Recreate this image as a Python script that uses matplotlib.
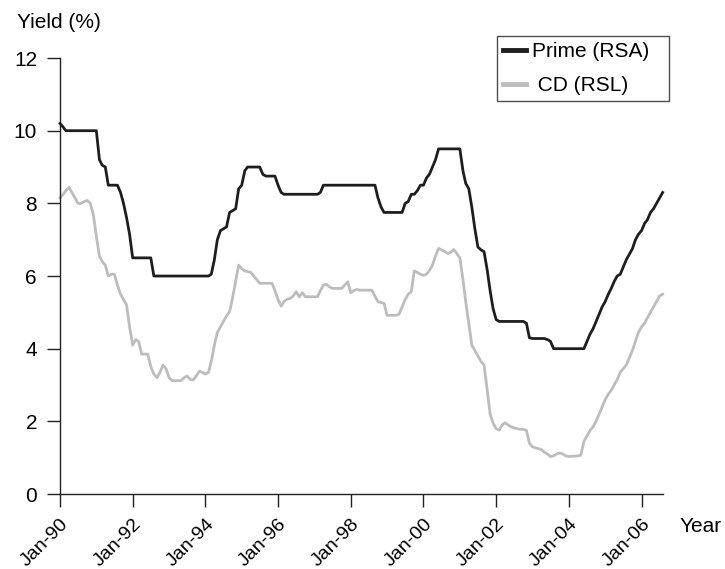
import pandas as pd
import matplotlib
matplotlib.use("Agg")
import matplotlib.pyplot as plt
import matplotlib.dates as mdates

plt.rcParams['font.family'] = ['Liberation Sans', 'DejaVu Sans']

# monthly values, Jan 1990 .. Aug 2006
prime = [
    10.2, 10.1, 10.0, 10.0, 10.0, 10.0, 10.0, 10.0, 10.0, 10.0, 10.0, 10.0,   # 1990
    10.0, 9.2, 9.05, 9.0, 8.5, 8.5, 8.5, 8.5, 8.3, 8.0, 7.6, 7.15,           # 1991
    6.5, 6.5, 6.5, 6.5, 6.5, 6.5, 6.5, 6.0, 6.0, 6.0, 6.0, 6.0,              # 1992
    6.0, 6.0, 6.0, 6.0, 6.0, 6.0, 6.0, 6.0, 6.0, 6.0, 6.0, 6.0,              # 1993
    6.0, 6.0, 6.05, 6.45, 7.0, 7.25, 7.3, 7.35, 7.75, 7.8, 7.85, 8.4,        # 1994
    8.5, 8.9, 9.0, 9.0, 9.0, 9.0, 9.0, 8.8, 8.75, 8.75, 8.75, 8.75,          # 1995
    8.5, 8.3, 8.25, 8.25, 8.25, 8.25, 8.25, 8.25, 8.25, 8.25, 8.25, 8.25,    # 1996
    8.25, 8.25, 8.3, 8.5, 8.5, 8.5, 8.5, 8.5, 8.5, 8.5, 8.5, 8.5,            # 1997
    8.5, 8.5, 8.5, 8.5, 8.5, 8.5, 8.5, 8.5, 8.5, 8.15, 7.9, 7.75,            # 1998
    7.75, 7.75, 7.75, 7.75, 7.75, 7.75, 8.0, 8.05, 8.25, 8.25, 8.35, 8.5,    # 1999
    8.5, 8.7, 8.8, 9.0, 9.2, 9.5, 9.5, 9.5, 9.5, 9.5, 9.5, 9.5,              # 2000
    9.5, 8.9, 8.55, 8.4, 7.9, 7.3, 6.8, 6.72, 6.67, 6.2, 5.6, 5.1,           # 2001
    4.8, 4.75, 4.75, 4.75, 4.75, 4.75, 4.75, 4.75, 4.75, 4.75, 4.7, 4.3,     # 2002
    4.28, 4.28, 4.28, 4.28, 4.28, 4.25, 4.2, 4.0, 4.0, 4.0, 4.0, 4.0,        # 2003
    4.0, 4.0, 4.0, 4.0, 4.0, 4.0, 4.2, 4.4, 4.55, 4.75, 4.95, 5.15,          # 2004
    5.3, 5.5, 5.65, 5.85, 6.0, 6.05, 6.25, 6.45, 6.6, 6.75, 7.0, 7.15,       # 2005
    7.25, 7.45, 7.55, 7.75, 7.85, 8.0, 8.15, 8.3,                            # 2006
]

cd = [
    8.15, 8.25, 8.35, 8.44, 8.3, 8.15, 8.0, 8.0, 8.05, 8.08, 8.0, 7.7,       # 1990
    7.1, 6.55, 6.4, 6.3, 6.0, 6.05, 6.05, 5.75, 5.5, 5.35, 5.2, 4.6,         # 1991
    4.1, 4.25, 4.2, 3.85, 3.85, 3.85, 3.5, 3.3, 3.2, 3.35, 3.55, 3.45,       # 1992
    3.2, 3.12, 3.12, 3.12, 3.12, 3.2, 3.25, 3.15, 3.14, 3.25, 3.38, 3.35,    # 1993
    3.3, 3.35, 3.65, 4.1, 4.45, 4.6, 4.75, 4.9, 5.02, 5.4, 5.85, 6.3,        # 1994
    6.2, 6.14, 6.12, 6.1, 6.0, 5.9, 5.8, 5.8, 5.8, 5.8, 5.8, 5.6,            # 1995
    5.35, 5.17, 5.3, 5.36, 5.38, 5.45, 5.57, 5.43, 5.54, 5.43, 5.43, 5.43,   # 1996
    5.43, 5.43, 5.6, 5.75, 5.77, 5.7, 5.66, 5.66, 5.66, 5.66, 5.75, 5.84,    # 1997
    5.54, 5.6, 5.63, 5.61, 5.61, 5.61, 5.61, 5.61, 5.45, 5.29, 5.27, 5.25,   # 1998
    4.92, 4.92, 4.92, 4.92, 4.95, 5.15, 5.35, 5.5, 5.57, 6.14, 6.1, 6.05,    # 1999
    6.02, 6.05, 6.15, 6.3, 6.55, 6.76, 6.72, 6.68, 6.62, 6.65, 6.73, 6.62,   # 2000
    6.5, 5.9, 5.3, 4.7, 4.1, 3.95, 3.8, 3.65, 3.55, 2.9, 2.2, 1.95,          # 2001
    1.8, 1.76, 1.9, 1.96, 1.9, 1.85, 1.82, 1.8, 1.78, 1.78, 1.75, 1.4,       # 2002
    1.3, 1.27, 1.25, 1.22, 1.15, 1.1, 1.03, 1.05, 1.1, 1.13, 1.1, 1.05,      # 2003
    1.03, 1.04, 1.04, 1.05, 1.07, 1.45, 1.6, 1.75, 1.85, 2.0, 2.2, 2.4,      # 2004
    2.6, 2.75, 2.85, 3.0, 3.15, 3.35, 3.45, 3.55, 3.75, 3.95, 4.2, 4.45,     # 2005
    4.6, 4.7, 4.85, 5.0, 5.15, 5.3, 5.45, 5.5,                               # 2006
]

dates = pd.date_range('1990-01-01', periods=len(prime), freq='MS')
tick_years = list(range(1990, 2007, 2))
yticks = [0, 2, 4, 6, 8, 10, 12]

fig = plt.figure(figsize=(7.25, 5.69), dpi=100)
ax = fig.add_axes([0.0828, 0.1318, 0.8312, 0.7662])

ax.plot(dates, prime, color='#1e1e1e', lw=2, label='Prime (RSA)', clip_on=False)
ax.plot(dates, cd, color='#bdbdbd', lw=2, label=' CD (RSL)', clip_on=False)

ax.set_ylim(0, 12)
ax.set_xlim(dates[0], dates[-1])
ax.set_yticks(yticks)
ax.set_xticks([pd.Timestamp(f'{y}-01-01') for y in tick_years])
ax.xaxis.set_major_formatter(mdates.DateFormatter('%b-%y'))

for s in ['top', 'right']:
    ax.spines[s].set_visible(False)
for s in ['left', 'bottom']:
    ax.spines[s].set_linewidth(1.0)
    ax.spines[s].set_color('#222222')

ax.tick_params(axis='both', direction='out', length=9.5, width=1.0, color='#222222')
ax.tick_params(axis='y', labelsize=15, pad=7)
ax.tick_params(axis='x', labelsize=14, pad=6)
for lab in ax.get_xticklabels():
    lab.set_rotation(45)
    lab.set_ha('right')
    lab.set_rotation_mode('anchor')

fig.text(17 / 725, 1 - 23 / 569, 'Yield (%)', fontsize=15, va='center', ha='left')
fig.text(680 / 725, 1 - 526 / 569, 'Year', fontsize=15, va='center', ha='left')

leg = ax.legend(loc='upper left', bbox_to_anchor=(497 / 725, 0.0, 172 / 725, 1 - 36 / 569),
                bbox_transform=fig.transFigure, mode='expand', fontsize=15, frameon=True,
                fancybox=False, edgecolor='#222222', handlelength=1.1,
                handletextpad=0.3, borderpad=0.3, labelspacing=0.7,
                borderaxespad=0)
leg.get_frame().set_linewidth(1.0)
for h in leg.get_lines():
    h.set_linewidth(3.5)

fig.savefig('out.png', dpi=100)
